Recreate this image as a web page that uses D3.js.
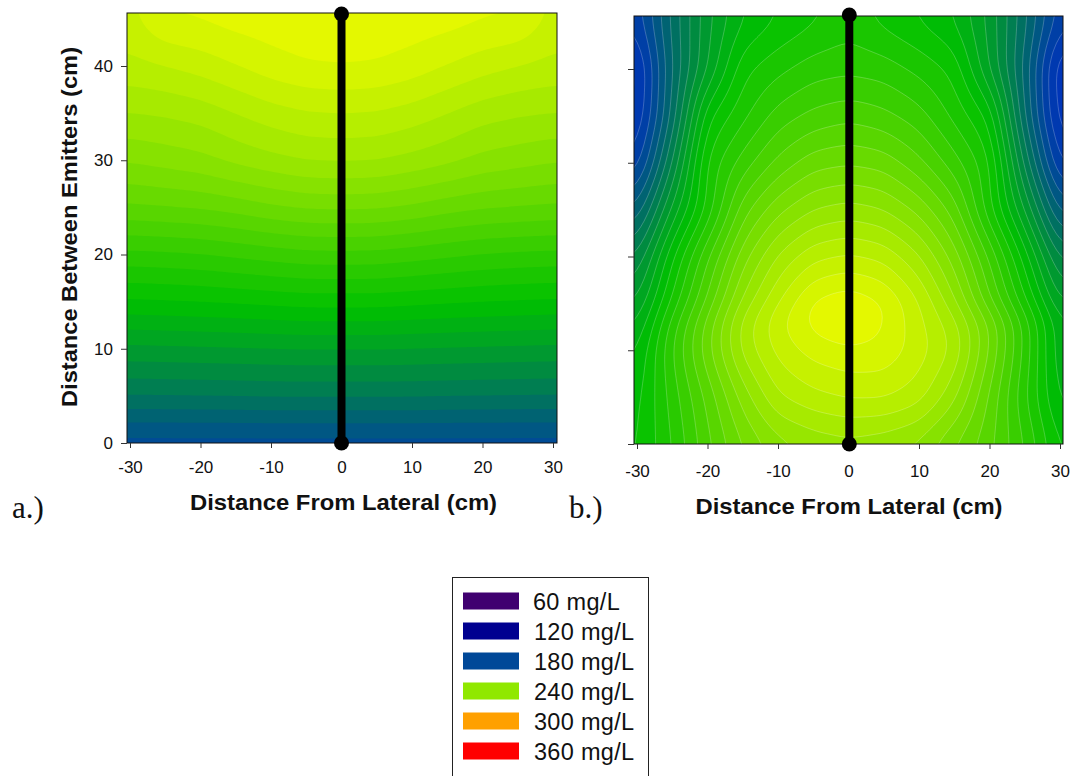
<!DOCTYPE html>
<html><head><meta charset="utf-8">
<script src="https://cdn.jsdelivr.net/npm/d3@7"></script>
<style>html,body{margin:0;padding:0;background:#fff;overflow:hidden}svg{display:block}</style>
</head><body><svg id="c" width="1075" height="776"></svg>
<script>
const xCols = [-30,-25,-20,-15,-10,-5,0,5,10,15,20,25,30];
const yRowsA = [0,5,10,15,20,25,30,35,40,45];
const yRowsB = [0,5,10,13,15,20,25,30,35,40,45];
const gridA = [
 [174,174,174,174,174,174,174,174,174,174,174,174,174],
 [186.5,186.6,186.7,186.8,187,187,187,187,187,186.8,186.7,186.6,186.5],
 [196,196.2,196.4,196.6,196.8,197,197,197,196.8,196.6,196.4,196.2,196],
 [207,207.3,207.6,208,208.5,209,209,209,208.5,208,207.6,207.3,207],
 [217,217.3,217.8,218.7,219.6,220.4,220.5,220.4,219.6,218.7,217.8,217.3,217],
 [228,228.5,229,230,231.5,232.5,232.7,232.5,231.5,230,229,228.5,228],
 [236,237,238,240,241.5,242.8,243,242.8,241.5,240,238,237,236],
 [242.5,243,244,246,248,249.2,249.5,249.2,248,246,244,243,242.5],
 [248.5,249.5,251,253,255,256.3,256.7,256.3,255,253,251,249.5,248.5],
 [252,256.6,257,258,258.5,259,259,259,258.5,258,257,256.6,252]
];
const gridB = [
 [207,214.5,224,232,237.5,240,241,240,238,232,226,218,207],
 [206,216,226,237,245.7,248.5,250,250,247.5,240,228,215,203],
 [203.5,218,231,243.7,250.7,254.5,255.8,255.5,251.5,245.5,232,217,201],
 [200,216,230,244,252.5,258,260.5,256.8,250.5,244,232,217,201],
 [197,212,226,240,249.5,257.5,259.5,257,250,240,226,212,197],
 [190,207,221,234,243,248.5,250,248.5,243,234,221,206,189],
 [180,198,212,227,234.5,239,240.5,239,234.5,227,212,197,178],
 [170,190,212,219.5,226,230.5,231.5,230.5,226,219.5,212,189,168],
 [165,184,207,213.5,219.5,222.5,224,222.5,219.5,213.5,207,183,163],
 [164,183,197,210,213.5,216.3,217,216.3,213.5,210,197,182,162],
 [170,184,196,204,207.8,210.5,213,210,207.3,204,196,184,170]
];
const xTicks = [-30,-20,-10,0,10,20,30];
const yTicks = [0,10,20,30,40];
const legendLabels = ["60 mg/L","120 mg/L","180 mg/L","240 mg/L","300 mg/L","360 mg/L"];
const legendColors = ["#400070","#000090","#004898","#90e800","#ffa000","#ff0000"];
const colorStops = [120,160,170,183,197,207,258,300,360];
const colorRange = ["#000090","#0030c0","#003caa","#006969","#00a028","#00c000","#e4f900","#ffa000","#ff0000"];
const xAxisTitle = "Distance From Lateral (cm)";
const yAxisTitle = "Distance Between Emitters (cm)";
const levels = d3.range(120,300,3.5);

const color = d3.scaleLinear().domain(colorStops).range(colorRange);
const svg = d3.select("#c");
const font = "'Liberation Sans',Arial,sans-serif";

function fine(grid, rows, dd){
  const x0=-32,y0=-1,nx=129,ny=Math.round(48/dd)+1, v=new Float64Array(nx*ny);
  const loc=(a,t)=>{ if(t<=a[0])return[0,0]; if(t>=a[a.length-1])return[a.length-2,1];
    const i=d3.bisectRight(a,t)-1; return [i,(t-a[i])/(a[i+1]-a[i])]; };
  for(let j=0;j<ny;j++){const [r,fr]=loc(rows,y0+j*dd);
    for(let i=0;i<nx;i++){const [c,fc]=loc(xCols,x0+i*dd);
      const a=grid[r][c]*(1-fc)+grid[r][c+1]*fc, b=grid[r+1][c]*(1-fc)+grid[r+1][c+1]*fc;
      v[j*nx+i]=a*(1-fr)+b*fr;}}
  d3.blur2({data:v,width:nx,height:ny},2);
  return {v,nx,ny,x0,y0,dd};
}

function panel(o){
  const x=d3.scaleLinear().domain([-30,30]).range(o.xr);
  const y=d3.scaleLinear().domain([0,40]).range(o.yr);
  const g=svg.append("g");
  const id="clip"+o.name;
  svg.append("clipPath").attr("id",id).append("rect")
    .attr("x",o.l).attr("y",o.t).attr("width",o.r-o.l).attr("height",o.b-o.t);
  const f=fine(o.grid,o.rows,0.5);
  const cs=d3.contours().size([f.nx,f.ny]).smooth(true).thresholds(levels)(f.v);
  const path=d3.geoPath(d3.geoTransform({point(px,py){
    this.stream.point(x(f.x0+(px-0.5)*f.dd), y(f.y0+(py-0.5)*f.dd));
  }}));
  const cg=g.append("g").attr("clip-path",`url(#${id})`);
  cg.append("rect").attr("x",o.l).attr("y",o.t).attr("width",o.r-o.l).attr("height",o.b-o.t)
    .attr("fill",color(d3.min(o.grid.flat())));
  cg.selectAll("path").data(cs.filter(c=>c.coordinates.length)).join("path")
    .attr("d",path).attr("fill",d=>color(d.value+1.75))
    .attr("stroke",o.lines?"rgba(255,255,255,.38)":"none").attr("stroke-width",0.6);
  g.append("rect").attr("x",o.l).attr("y",o.t).attr("width",o.r-o.l).attr("height",o.b-o.t)
    .attr("fill","none").attr("stroke","#111").attr("stroke-width",1);

  const ax=g.append("g").attr("transform",`translate(0,${o.b})`)
    .call(d3.axisBottom(x).tickValues(xTicks).tickSize(5).tickPadding(o.xPad).tickFormat(d3.format("d")));
  ax.select(".domain").remove();
  ax.selectAll("text").style("font",`17px ${font}`).attr("fill","#111").text(d=>String(d));
  const ay=g.append("g").attr("transform",`translate(${o.l},0)`)
    .call(d3.axisLeft(y).tickValues(yTicks).tickSize(6).tickPadding(8).tickFormat(o.yLabels?d3.format("d"):""));
  ay.select(".domain").remove();
  ay.selectAll("text").style("font",`17px ${font}`).attr("fill","#111");
  g.selectAll(".tick line").attr("stroke","#333");

  const bx=x(0)+o.barShift;
  g.append("line").attr("x1",bx).attr("x2",bx).attr("y1",o.barTop).attr("y2",o.b)
    .attr("stroke","#000").attr("stroke-width",8);
  [o.barTop,o.b].forEach(cy=>g.append("circle").attr("cx",bx).attr("cy",cy).attr("r",7.5).attr("fill","#000"));

  g.append("text").attr("x",o.tx).attr("y",o.ty).attr("text-anchor","middle")
    .attr("textLength",307).attr("lengthAdjust","spacingAndGlyphs")
    .style("font",`bold 22.5px ${font}`).attr("fill","#111").text(xAxisTitle);
  svg.append("text").attr("x",o.tag[1]).attr("y",o.tag[2])
    .style("font","31px 'Liberation Serif','Times New Roman',serif").attr("fill","#111").text(o.tag[0]);
}

panel({name:"a",l:127,r:557,t:13,b:443,xr:[130,553],yr:[443,66],grid:gridA,rows:yRowsA,lines:false,yLabels:true,tx:343.5,ty:510,xPad:13,barTop:14,barShift:0,tag:["a.)",12,518]});
panel({name:"b",l:634,r:1063,t:16,b:444,xr:[637,1060],yr:[444,69],grid:gridB,rows:yRowsB,lines:true,yLabels:false,tx:849,ty:514,xPad:16,barTop:15,barShift:.8,tag:["b.)",569,518]});

svg.append("text").attr("transform","translate(77,227) rotate(-90)").attr("text-anchor","middle")
  .attr("textLength",360).attr("lengthAdjust","spacingAndGlyphs")
  .style("font",`bold 22.5px ${font}`).attr("fill","#111").text(yAxisTitle);

svg.append("rect").attr("x",452.5).attr("y",577.5).attr("width",196).attr("height",220)
  .attr("fill","#fff").attr("stroke","#222").attr("stroke-width",1);
const ly=d3.scalePoint().domain(legendLabels).range([601,751]);
const lg=svg.append("g").selectAll("g").data(legendLabels).join("g")
  .attr("transform",d=>`translate(0,${ly(d)})`);
lg.append("rect").attr("x",463).attr("y",-8.5).attr("width",56).attr("height",17)
  .attr("fill",(d,i)=>legendColors[i]);
lg.append("text").attr("x",(d,i)=>i?534:533).attr("y",8.5)
  .style("font",`23.5px ${font}`).style("letter-spacing","0.3px").attr("fill","#111").text(d=>d);
</script></body></html>
